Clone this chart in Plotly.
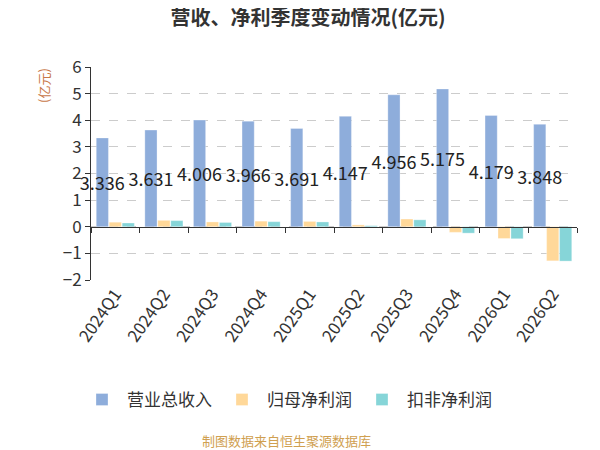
import plotly.graph_objects as go

# 数据
quarters = ["2024Q1", "2024Q2", "2024Q3", "2024Q4", "2025Q1",
            "2025Q2", "2025Q3", "2025Q4", "2026Q1", "2026Q2"]
revenue = [3.336, 3.631, 4.006, 3.966, 3.691, 4.147, 4.956, 5.175, 4.179, 3.848]
net_profit = [0.17, 0.24, 0.18, 0.21, 0.20, 0.07, 0.29, -0.21, -0.44, -1.28]
deducted_profit = [0.14, 0.23, 0.16, 0.19, 0.18, 0.04, 0.26, -0.24, -0.45, -1.29]

font_cn = "Noto Sans CJK SC"
edge = dict(color="rgba(255,255,255,0.6)", width=0.5)

fig = go.Figure()
fig.add_trace(go.Bar(
    x=quarters, y=revenue, name="营业总收入",
    marker=dict(color="#8eaddb", line=edge),
    text=[f"{v:.3f}" for v in revenue],
    textposition="inside", insidetextanchor="middle",
    constraintext="none", textangle=0, cliponaxis=False,
    insidetextfont=dict(color="#222222", size=18, family=font_cn),
))
fig.add_trace(go.Bar(
    x=quarters, y=net_profit, name="归母净利润",
    marker=dict(color="#ffd899", line=edge),
))
fig.add_trace(go.Bar(
    x=quarters, y=deducted_profit, name="扣非净利润",
    marker=dict(color="#86d5d8", line=edge),
))
# 零线上的刻度轴
fig.add_trace(go.Scatter(
    x=quarters, y=[None] * len(quarters), xaxis="x2",
    showlegend=False, hoverinfo="skip",
))

fig.update_layout(
    width=600, height=450,
    margin=dict(l=83, r=31, t=59, b=178),
    paper_bgcolor="white", plot_bgcolor="white",
    font=dict(family=font_cn, color="#333333", size=17),
    barmode="group", bargap=0.2, bargroupgap=0.06,
    title=dict(text="<b>营收、净利季度变动情况(亿元)</b>",
               x=0.5, xanchor="center", y=0.978, yanchor="middle",
               font=dict(size=20, color="#333333")),
    xaxis=dict(
        type="category", showline=False, ticks="", showgrid=False,
        tickangle=-55, tickfont=dict(size=17, color="#333333"),
        range=[-0.5, 9.5],
    ),
    xaxis2=dict(
        type="category", overlaying="x", anchor="free", position=0.25,
        showline=True, linecolor="#333333", linewidth=1,
        ticks="outside", ticklen=5, tickcolor="#333333", tickson="boundaries",
        showticklabels=False, showgrid=False, range=[-0.5, 9.5],
    ),
    yaxis=dict(
        range=[-2, 6], dtick=1, zeroline=False,
        showline=True, linecolor="#333333", linewidth=1,
        ticks="outside", ticklen=5, tickcolor="#333333",
        gridcolor="#cccccc", griddash="dash", gridwidth=1,
        tickfont=dict(size=17, color="#333333"),
    ),
    legend=dict(
        orientation="h", xref="container", yref="container",
        x=0.115, xanchor="left", y=0.129, yanchor="middle",
        itemwidth=40,
        font=dict(size=17, color="#333333"),
    ),
    annotations=[
        dict(text="(亿元)", xref="paper", yref="paper", x=-0.099, y=0.915,
             xanchor="center", yanchor="middle",
             textangle=-90, showarrow=False,
             font=dict(size=13, color="#c8784a")),
        dict(text="制图数据来自恒生聚源数据库", xref="paper", yref="paper",
             x=0.403, y=-0.755, xanchor="center", yanchor="middle",
             showarrow=False,
             font=dict(size=13, color="#d0a050")),
    ],
)

fig.write_html("out.html")
